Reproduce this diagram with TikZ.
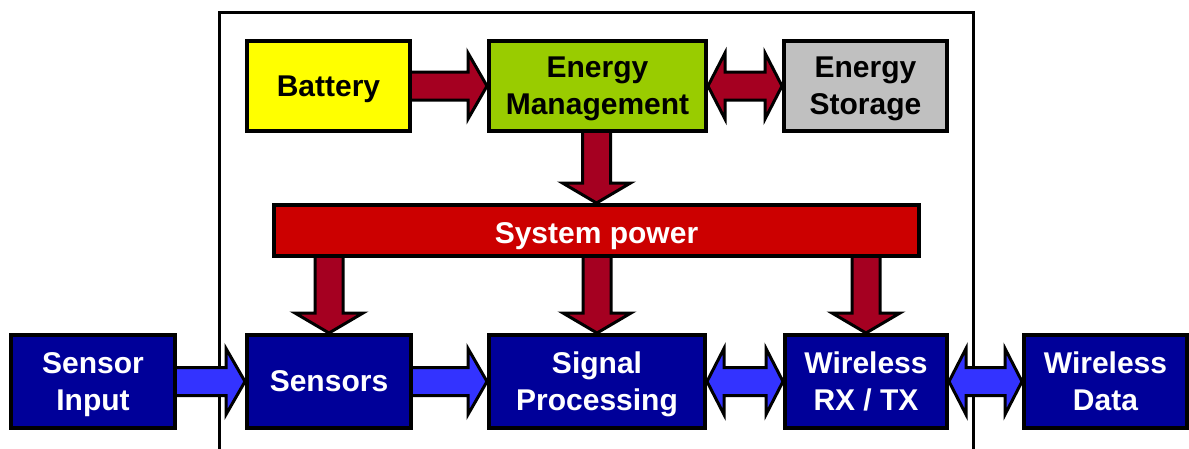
\documentclass[tikz,border=0pt]{standalone}
\usepackage{fontspec}
\setmainfont{Liberation Sans}
\usetikzlibrary{calc}
\definecolor{navy}{HTML}{000099}
\definecolor{arrowblue}{HTML}{3333FF}
\definecolor{arrowred}{HTML}{A50021}
\definecolor{powerred}{HTML}{CC0000}
\definecolor{emgreen}{HTML}{99CC00}
\definecolor{storegray}{HTML}{C0C0C0}
\definecolor{batyellow}{HTML}{FFFF00}
\pgfdeclarelayer{framelayer}
\pgfdeclarelayer{arrowlayer}
\pgfsetlayers{framelayer,arrowlayer,main}
\tikzset{
  block/.style={draw=black, line width=4pt, inner sep=0pt, outer sep=2pt, align=center,
    text depth=0pt, font=\bfseries\fontsize{30}{37}\selectfont},
  topblock/.style={block, minimum height=90pt, text=black},
  botblock/.style={block, minimum height=93pt, fill=navy, text=white},
  powerblock/.style={block, minimum height=51pt, fill=powerred, text=white, text height=26pt},
  redarrow/.style={draw=black, line width=3pt, fill=arrowred, line join=miter},
  bluearrow/.style={draw=black, line width=3pt, fill=arrowblue, line join=miter},
  frameline/.style={draw=black, line width=3pt}
}
% single right arrow: style, from (east), to (west)
\newcommand\blockright[3]{%
  \path let \p1=(#2), \p2=(#3) in [#1]
    ({\x1-4pt},{\y1+14pt}) -- ({\x2-19pt},{\y1+14pt}) -- ({\x2-19pt},{\y1+33pt})
    -- (\x2,\y1) -- ({\x2-19pt},{\y1-33pt}) -- ({\x2-19pt},{\y1-14pt})
    -- ({\x1-4pt},{\y1-14pt}) -- cycle;}
% double horizontal arrow
\newcommand\blockboth[3]{%
  \path let \p1=(#2), \p2=(#3) in [#1]
    (\x1,\y1) -- ({\x1+17pt},{\y1+33pt}) -- ({\x1+17pt},{\y1+14pt})
    -- ({\x2-17pt},{\y1+14pt}) -- ({\x2-17pt},{\y1+33pt}) -- (\x2,\y1)
    -- ({\x2-17pt},{\y1-33pt}) -- ({\x2-17pt},{\y1-14pt})
    -- ({\x1+17pt},{\y1-14pt}) -- ({\x1+17pt},{\y1-33pt}) -- cycle;}
% down arrow: style, from (south), to (north)
\newcommand\blockdown[3]{%
  \path let \p1=(#2), \p2=(#3) in [#1]
    ({\x2-14pt},{\y1+4pt}) -- ({\x2-14pt},{\y2+20pt}) -- ({\x2-34pt},{\y2+20pt})
    -- (\x2,\y2) -- ({\x2+34pt},{\y2+20pt}) -- ({\x2+14pt},{\y2+20pt})
    -- ({\x2+14pt},{\y1+4pt}) -- cycle;}
\begin{document}
\begin{tikzpicture}[x=1pt,y=-1pt]
\useasboundingbox (0,0) rectangle (1189,448);

% top row
\node[topblock, fill=batyellow, minimum width=163pt] (bat) at (328.5,86) {Battery};
\node[topblock, fill=emgreen, minimum width=217pt] (em) at (597.5,86) {Energy\\Management};
\node[topblock, fill=storegray, minimum width=163pt] (es) at (865.5,86) {Energy\\Storage};

% system power
\node[powerblock, minimum width=645pt] (sp) at (596.5,230.5) {System power};

% bottom row
\node[botblock, minimum width=164pt] (sin) at (93,381.5) {Sensor\\Input};
\node[botblock, minimum width=164pt] (sens) at (329,381.5) {Sensors};
\node[botblock, minimum width=216pt] (proc) at (597,381.5) {Signal\\Processing};
\node[botblock, minimum width=162pt] (wrx) at (866,381.5) {Wireless\\RX / TX};
\node[botblock, minimum width=163pt] (wd) at (1105.5,381.5) {Wireless\\Data};

% frame
\begin{pgfonlayer}{framelayer}
  \coordinate (fbl) at (219,450);
  \coordinate (ftl) at (219,12.7);
  \coordinate (ftr) at (973,12.7);
  \coordinate (fbr) at (973,450);
  \draw[frameline] (fbl) -- (ftl) -- (ftr) -- (fbr);
\end{pgfonlayer}

% arrows
\begin{pgfonlayer}{arrowlayer}
  \blockright{redarrow}{bat.east}{em.west}
  \blockboth{redarrow}{em.east}{es.west}
  \blockdown{redarrow}{em.south}{sp.north}
  \blockdown{redarrow}{sp.south}{sens.north}
  \blockdown{redarrow}{sp.south}{proc.north}
  \blockdown{redarrow}{sp.south}{wrx.north}
  \blockright{bluearrow}{sin.east}{sens.west}
  \blockright{bluearrow}{sens.east}{proc.west}
  \blockboth{bluearrow}{proc.east}{wrx.west}
  \blockboth{bluearrow}{wrx.east}{wd.west}
\end{pgfonlayer}
\end{tikzpicture}
\end{document}
